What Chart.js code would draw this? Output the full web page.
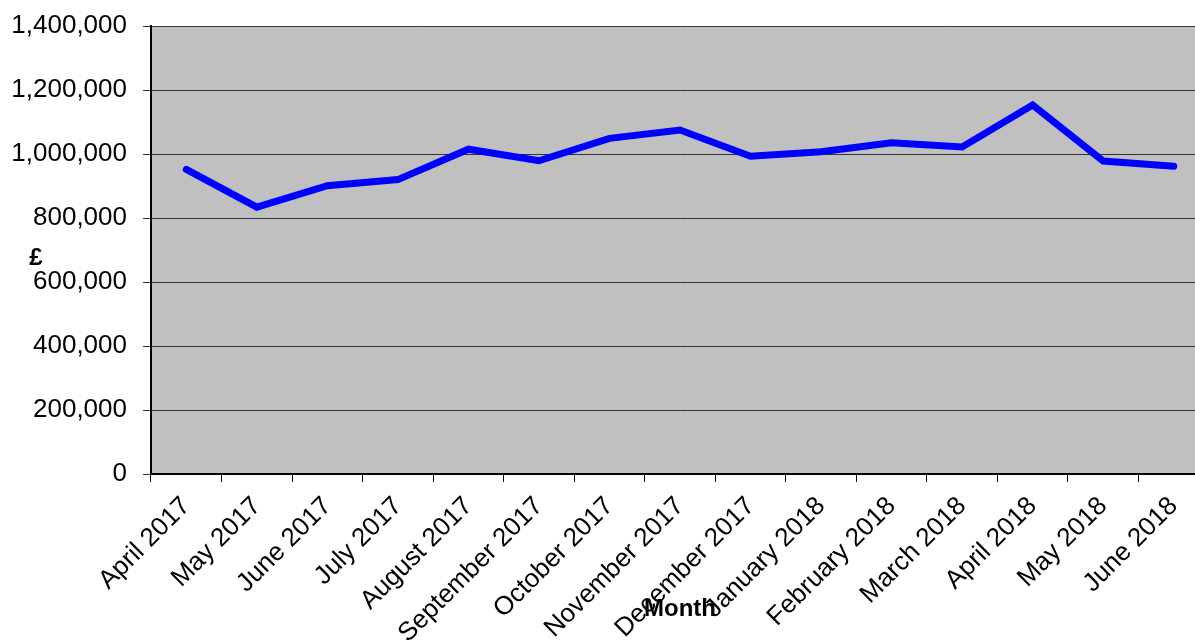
<!DOCTYPE html>
<html>
<head>
<meta charset="utf-8">
<script src="https://cdn.jsdelivr.net/npm/chart.js@4/dist/chart.umd.min.js"></script>
<style>
  html, body { margin: 0; padding: 0; background: #fff; overflow: hidden; width: 1195px; height: 641px; }
  #wrap { position: absolute; left: 0; top: 0; width: 1209px; height: 641px; }
</style>
</head>
<body>
<div id="wrap"><canvas id="c"></canvas></div>
<script>
const categories = ["April 2017", "May 2017", "June 2017", "July 2017", "August 2017", "September 2017", "October 2017", "November 2017", "December 2017", "January 2018", "February 2018", "March 2018", "April 2018", "May 2018", "June 2018"];
const revenue = [952000, 834000, 901000, 920000, 1015000, 979000, 1049000, 1075000, 993000, 1007000, 1035000, 1022000, 1153000, 978000, 962000];
const yTicks = [0, 200000, 400000, 600000, 800000, 1000000, 1200000, 1400000];
const yAxisTitle = "£";
const xAxisTitle = "Month";

const FONT = "'Liberation Sans', Arial, sans-serif";

const bgPlugin = {
  id: 'plotBg',
  beforeDraw(chart) {
    const a = chart.chartArea, ctx = chart.ctx;
    ctx.save();
    ctx.fillStyle = '#C0C0C0';
    ctx.fillRect(a.left, a.top, a.right - a.left, a.bottom - a.top);
    ctx.restore();
  }
};
const yTitlePlugin = {
  id: 'yTitle',
  afterDraw(chart) {
    const ctx = chart.ctx;
    ctx.save();
    ctx.font = "bold 24px " + FONT;
    ctx.fillStyle = '#000';
    ctx.textAlign = 'center';
    ctx.textBaseline = 'alphabetic';
    ctx.fillText(yAxisTitle, 36, 265);
    ctx.restore();
  }
};

new Chart(document.getElementById('c'), {
  type: 'line',
  data: {
    labels: categories,
    datasets: [{
      data: revenue,
      borderColor: '#0000FF',
      borderWidth: 7,
      pointRadius: 0,
      tension: 0,
      borderCapStyle: 'round',
      borderJoinStyle: 'miter',
      fill: false
    }]
  },
  plugins: [bgPlugin, yTitlePlugin],
  options: {
    responsive: true,
    maintainAspectRatio: false,
    animation: false,
    layout: { padding: { top: 26, left: 0, right: 0, bottom: 0 } },
    plugins: { legend: { display: false }, tooltip: { enabled: false } },
    scales: {
      x: {
        type: 'category',
        offset: true,
        afterFit(scale) { scale.height = 167; scale.paddingLeft = 0; scale.paddingRight = 0; },
        grid: { offset: true, drawOnChartArea: false, drawTicks: true, tickLength: 8, color: '#000' },
        border: { display: true, color: '#000', width: 2 },
        ticks: {
          autoSkip: false, minRotation: 45, maxRotation: 45, color: '#000', padding: 9,
          font: { family: FONT, size: 26 }
        },
        title: {
          display: true, text: xAxisTitle, color: '#000',
          font: { family: FONT, size: 24, weight: 'bold' },
          padding: { top: 0, bottom: 17 }
        }
      },
      y: {
        min: 0,
        max: 1400000,
        afterFit(scale) { scale.width = 151; scale.paddingTop = 0; scale.paddingBottom = 0; },
        afterBuildTicks(scale) { scale.ticks = yTicks.map(v => ({ value: v })); },
        grid: { color: '#333', lineWidth: 1, drawTicks: true, tickLength: 8 },
        border: { display: true, color: '#000', width: 2 },
        ticks: {
          color: '#000', padding: 16,
          font: { family: FONT, size: 26 },
          callback: (v) => Number(v).toLocaleString('en-GB')
        }
      }
    }
  }
});
</script>
</body>
</html>
